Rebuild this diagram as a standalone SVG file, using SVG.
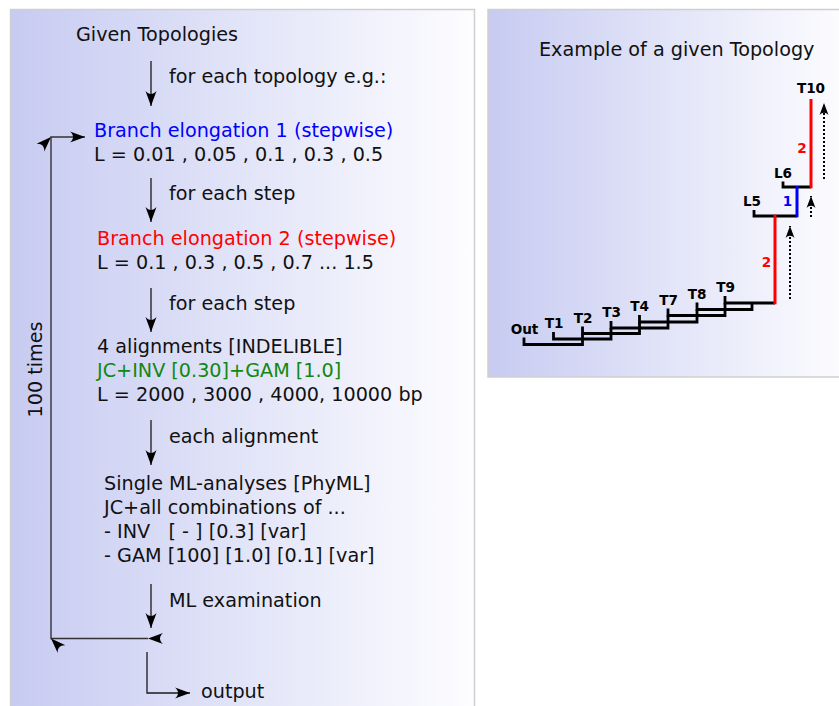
<svg xmlns="http://www.w3.org/2000/svg" width="839" height="706" viewBox="0 0 839 706">
<style>
  .t { font-family: "DejaVu Sans", "Liberation Sans", sans-serif; font-size: 19.2px; fill: #111; }
  .b { fill: #0000ff; }
  .r { fill: #ff0000; }
  .g { fill: #118811; }
  .lb { font-family: "DejaVu Sans", "Liberation Sans", sans-serif; font-size: 13.6px; font-weight: bold; fill: #000; text-anchor: middle; }
  .flow { fill: none; stroke: #1a1a1a; stroke-width: 1.3; }
  .loop { fill: none; stroke: #333; stroke-width: 1.4; marker-start: url(#ah); marker-mid: url(#ah); marker-end: url(#ah); }
  .tree { fill: none; stroke: #000; stroke-width: 2.8; stroke-linejoin: miter; }
  .red { stroke: #ff0000; stroke-width: 3; fill: none; }
  .blue { stroke: #0000ff; stroke-width: 3; fill: none; }
  .dot { fill: none; stroke: #000; stroke-width: 2; stroke-dasharray: 2 2; marker-end: url(#ah2); }
  .panel { stroke: #cfcfcf; stroke-width: 1.5; fill: url(#bg); }
</style>
<defs>
  <linearGradient id="bg" x1="0" y1="0" x2="1" y2="0">
    <stop offset="0" stop-color="#c7cbf1"/>
    <stop offset="1" stop-color="#fdfdff"/>
  </linearGradient>
  <marker id="ah" markerUnits="userSpaceOnUse" orient="auto" viewBox="-18 -8 20 16" markerWidth="20" markerHeight="16" refX="0" refY="0" overflow="visible">
    <path d="M0,0 L-15,-5.5 C-11,-2 -11,2 -15,5.5 Z" fill="#000"/>
  </marker>
  <marker id="ah2" markerUnits="userSpaceOnUse" orient="auto" viewBox="-14 -6 16 12" markerWidth="16" markerHeight="12" refX="0" refY="0" overflow="visible">
    <path d="M0,0 L-12,-4.5 C-9,-1.5 -9,1.5 -12,4.5 Z" fill="#000"/>
  </marker>
</defs>

<rect id="leftPanel" class="panel" x="10.5" y="9.5" width="464" height="710"/>
<rect id="rightPanel" class="panel" x="488" y="9.5" width="360" height="367.5"/>

<g id="connectors">
  <line class="flow" x1="151" y1="61" x2="151" y2="106" marker-end="url(#ah)"/>
  <line class="flow" x1="151" y1="178" x2="151" y2="222" marker-end="url(#ah)"/>
  <line class="flow" x1="151" y1="288" x2="151" y2="332" marker-end="url(#ah)"/>
  <line class="flow" x1="151" y1="420" x2="151" y2="465" marker-end="url(#ah)"/>
  <line class="flow" x1="151" y1="584" x2="151" y2="628" marker-end="url(#ah)"/>
  <path class="loop" d="M148,638.5 H51 V137 H85"/>
  <path class="flow" d="M147,652 V693 H190" marker-end="url(#ah)"/>
</g>

<g id="n-given"><text class="t" x="76" y="41">Given Topologies</text></g>
<g id="l-each-topology"><text class="t" x="169" y="83">for each topology e.g.:</text></g>
<g id="n-branch1">
  <text class="t b" x="94" y="137">Branch elongation 1 (stepwise)</text>
  <text class="t" x="94" y="161">L = 0.01 , 0.05 , 0.1 , 0.3 , 0.5</text>
</g>
<g id="l-step1"><text class="t" x="169" y="200">for each step</text></g>
<g id="n-branch2">
  <text class="t r" x="97" y="245">Branch elongation 2 (stepwise)</text>
  <text class="t" x="97" y="269">L = 0.1 , 0.3 , 0.5 , 0.7 ... 1.5</text>
</g>
<g id="l-step2"><text class="t" x="169" y="310">for each step</text></g>
<g id="n-align">
  <text class="t" x="97" y="353">4 alignments [INDELIBLE]</text>
  <text class="t g" x="97" y="377">JC+INV [0.30]+GAM [1.0]</text>
  <text class="t" x="97" y="401">L = 2000 , 3000 , 4000, 10000 bp</text>
</g>
<g id="l-eachalign"><text class="t" x="169" y="443">each alignment</text></g>
<g id="n-ml">
  <text class="t" x="104" y="490">Single ML-analyses [PhyML]</text>
  <text class="t" x="104" y="514">JC+all combinations of ...</text>
  <text class="t" x="104" y="538" xml:space="preserve">- INV   [ - ] [0.3] [var]</text>
  <text class="t" x="104" y="562">- GAM [100] [1.0] [0.1] [var]</text>
</g>
<g id="l-mlexam"><text class="t" x="169" y="607">ML examination</text></g>
<g id="n-output"><text class="t" x="201" y="698">output</text></g>
<g id="l-100"><text class="t" text-anchor="middle" transform="translate(42,369.5) rotate(-90)">100 times</text></g>

<g id="example">
  <text class="t" x="539" y="56">Example of a given Topology</text>
  <g id="tree-lines">
    <path class="tree" d="M524,337.5 V344.5 H582.5 V333.5"/>
    <path class="tree" d="M553.5,332 V339 H611 V328"/>
    <path class="tree" d="M582.5,326.5 V333.5 H639.5 V322"/>
    <path class="tree" d="M611,321 V328 H668 V315.5"/>
    <path class="tree" d="M639.5,315 V322 H697 V309.5"/>
    <path class="tree" d="M668,308.5 V315.5 H725 V303"/>
    <path class="tree" d="M697,302.5 V309.5 H752 V303"/>
    <path class="tree" d="M725,296 V303 H775"/>
    <path class="tree" d="M754,210 V216 H797"/>
    <path class="tree" d="M783,181.5 V187 H811"/>
    <path class="red" d="M775,304.3 V214.7"/>
    <path class="blue" d="M797,217.3 V186"/>
    <path class="red" d="M811,188.3 V99"/>
    <path class="dot" d="M790,299 V226"/>
    <path class="dot" d="M811,217 V196"/>
    <path class="dot" d="M824,179 V103"/>
  </g>
  <g id="tree-labels">
    <text class="lb" x="524.5" y="333.5">Out</text>
    <text class="lb" x="554" y="328">T1</text>
    <text class="lb" x="583" y="322.5">T2</text>
    <text class="lb" x="611.5" y="317">T3</text>
    <text class="lb" x="639.5" y="311">T4</text>
    <text class="lb" x="668.5" y="304.5">T7</text>
    <text class="lb" x="697" y="298.5">T8</text>
    <text class="lb" x="725.5" y="292">T9</text>
    <text class="lb" x="752" y="206">L5</text>
    <text class="lb" x="783" y="178">L6</text>
    <text class="lb" x="811" y="93">T10</text>
    <text class="lb" x="802" y="153" style="fill:#ff0000">2</text>
    <text class="lb" x="787.5" y="206" style="fill:#0000ff">1</text>
    <text class="lb" x="766.5" y="267" style="fill:#ff0000">2</text>
  </g>
</g>
</svg>
